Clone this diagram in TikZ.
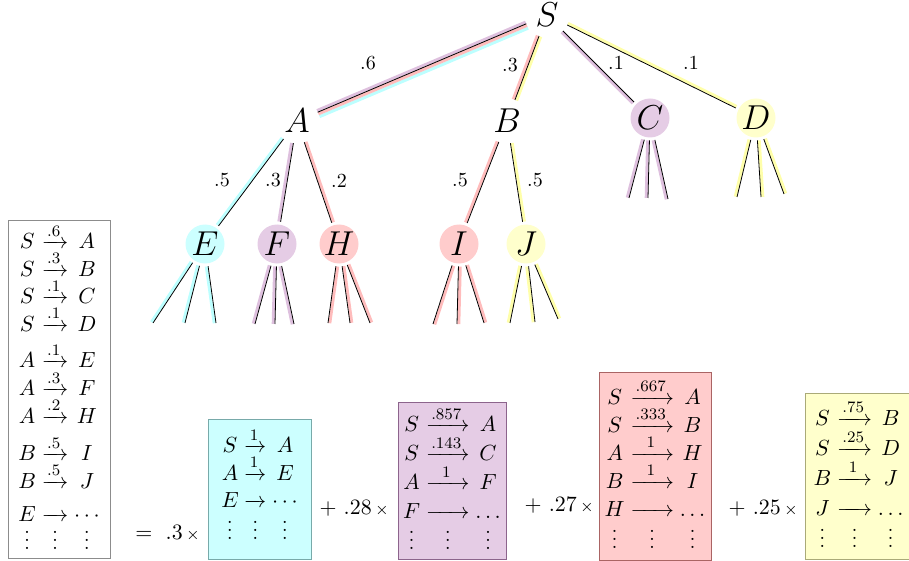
\documentclass[tikz,border=0pt]{standalone}
\usepackage{amsmath,mathtools}
\usetikzlibrary{calc,matrix}

\definecolor{cyanfill}{RGB}{204,255,255}
\definecolor{violetfill}{RGB}{229,204,229}
\definecolor{redfill}{RGB}{255,204,204}
\definecolor{yellowfill}{RGB}{255,255,204}
\definecolor{cyanhl}{RGB}{188,255,255}
\definecolor{violethl}{RGB}{222,192,222}
\definecolor{redhl}{RGB}{255,188,188}
\definecolor{yellowhl}{RGB}{255,255,170}

% arrow as long as the label #1, printed with label #2
\newlength\arrwd
\newcommand\wa[2]{\settowidth\arrwd{$\scriptstyle#1$}\xrightarrow{\makebox[\arrwd]{$\scriptstyle#2$}}}

% tree edge: thin black line with coloured lines beside it
\newcommand\hledge[3]{%
  \path (#1) -- (#2) coordinate[pos=0] (h0) coordinate[pos=1] (h1);
  \foreach \hc/\ho in {#3}
    \draw[draw=\hc, line width=1.5pt] ($(h0)!\ho!90:(h1)$) -- ($(h1)!\ho!-90:(h0)$);
  \draw (h0) -- (h1);}

\begin{document}
\begin{tikzpicture}[x=0.5pt, y=-0.5pt,
	tn/.style={circle, minimum size=19.5pt, inner sep=0pt, outer sep=1.5pt, font=\LARGE},
	lbl/.style={inner sep=0pt},
	rulebox/.style={rectangle, inner sep=0pt},
	rules/.style={matrix of math nodes, column sep=2.9pt, row sep=0.8pt,
		nodes={anchor=base, inner sep=0pt, text height=11.5pt, text depth=1.5pt,
			font=\fontsize{11pt}{13pt}\selectfont}},
	coef/.style={anchor=east, inner sep=0pt, font=\fontsize{11pt}{13pt}\selectfont}]
	\useasboundingbox (0,0) rectangle (909,561);

	% Baum
	\node[tn] (S) at (547,15) {$S$};
	\node[tn] (A) at (297,121) {$A$};
	\node[tn] (B) at (507,121) {$B$};
	\node[tn, fill=violetfill] (C) at (650,118) {$C$};
	\node[tn, fill=yellowfill] (D) at (756,118) {$D$};
	\node[tn, fill=cyanfill] (E) at (205,244) {$E$};
	\node[tn, fill=violetfill] (F) at (277,244) {$F$};
	\node[tn, fill=redfill] (H) at (339,244) {$H$};
	\node[tn, fill=redfill] (I) at (459,244) {$I$};
	\node[tn, fill=yellowfill] (J) at (526,244) {$J$};

	\hledge{S}{A}{cyanhl/2.4pt, redhl/0.9pt, violethl/-0.9pt}
	\hledge{S}{B}{redhl/-0.9pt, yellowhl/0.9pt}
	\hledge{S}{C}{violethl/-0.9pt}
	\hledge{S}{D}{yellowhl/0.9pt}
	\hledge{A}{E}{cyanhl/-0.9pt}
	\hledge{A}{F}{violethl/-0.9pt}
	\hledge{A}{H}{redhl/0.9pt}
	\hledge{B}{I}{redhl/-0.9pt}
	\hledge{B}{J}{yellowhl/0.9pt}

	% Wahrscheinlichkeiten
	\node[lbl] (pA) at (368,63) {$.6$};
	\node[lbl] (pB) at (510,65) {$.3$};
	\node[lbl] (pC) at (616,63) {$.1$};
	\node[lbl] (pD) at (691,63) {$.1$};
	\node[lbl] (pE) at (222,180) {$.5$};
	\node[lbl] (pF) at (273,180) {$.3$};
	\node[lbl] (pH) at (339,181) {$.2$};
	\node[lbl] (pI) at (460,180) {$.5$};
	\node[lbl] (pJ) at (535,180) {$.5$};

	% offene Enden
	\coordinate (E1) at (153,323); \coordinate (E2) at (185,323); \coordinate (E3) at (216,323);
	\coordinate (F1) at (255,324); \coordinate (F2) at (275,324); \coordinate (F3) at (294,324);
	\coordinate (H1) at (328,323); \coordinate (H2) at (350,323); \coordinate (H3) at (370,323);
	\coordinate (I1) at (433,324); \coordinate (I2) at (457,324); \coordinate (I3) at (484,323);
	\coordinate (J1) at (510,323); \coordinate (J2) at (535,322); \coordinate (J3) at (558,319);
	\coordinate (C1) at (629,198); \coordinate (C2) at (648,198); \coordinate (C3) at (668,199);
	\coordinate (D1) at (737,197); \coordinate (D2) at (761,197); \coordinate (D3) at (784,194);
	\foreach \k in {1,2,3} {
		\hledge{E}{E\k}{cyanhl/-0.9pt}
		\hledge{F}{F\k}{violethl/-0.9pt}
		\hledge{H}{H\k}{redhl/0.9pt}
		\hledge{I}{I\k}{redhl/0.9pt}
		\hledge{C}{C\k}{violethl/-0.9pt}
	}
	\hledge{J}{J1}{yellowhl/-0.9pt}
	\hledge{J}{J2}{yellowhl/-0.9pt}
	\hledge{J}{J3}{yellowhl/0.9pt}
	\hledge{D}{D1}{yellowhl/-0.9pt}
	\hledge{D}{D2}{yellowhl/0.9pt}
	\hledge{D}{D3}{yellowhl/0.9pt}

	% Grammatik
	\node[rulebox, draw=black!45, minimum width=51pt, minimum height=169pt] (gram) at (59,389) {};
	\matrix[rules] (gramrules) at (gram.center) {
		S & \xrightarrow{.6} & A \\
		S & \xrightarrow{.3} & B \\
		S & \xrightarrow{.1} & C \\
		S & \xrightarrow{.1} & D \\[4.5pt]
		A & \xrightarrow{.1} & E \\
		A & \xrightarrow{.3} & F \\
		A & \xrightarrow{.2} & H \\[5pt]
		B & \xrightarrow{.5} & I \\
		B & \xrightarrow{.5} & J \\[3pt]
		E & \wa{.6}{} & \cdots \\
		\vdots & \vdots & \vdots \\
	};

	% Zerlegung
	\node[coef] (k1) at (200,533) {$=\ .3\,{\scriptstyle\times}$};
	\node[rulebox, fill=cyanfill, draw={rgb,255:red,120;green,170;blue,170}, minimum width=51.5pt, minimum height=70pt] (box1) at (259.5,489) {};
	\matrix[rules] (rules1) at ([yshift=1.5pt]box1.center) {
		S & \xrightarrow{1} & A \\
		A & \xrightarrow{1} & E \\
		E & \wa{1}{} & \cdots \\[2pt]
		\vdots & \vdots & \vdots \\
	};

	\node[coef] (k2) at (389,508) {$+\ .28\,{\scriptstyle\times}$};
	\node[rulebox, fill=violetfill, draw={rgb,255:red,140;green,100;blue,140}, minimum width=54pt, minimum height=78.5pt] (box2) at (452,480.5) {};
	\matrix[rules, row sep=1.5pt] (rules2) at (box2.center) {
		S & \wa{.857}{.857} & A \\
		S & \wa{.857}{.143} & C \\
		A & \wa{.857}{1} & F \\
		F & \wa{.857}{} & \ldots \\[1pt]
		\vdots & \vdots & \vdots \\
	};

	\node[coef] (k3) at (594,505) {$+\ .27\,{\scriptstyle\times}$};
	\node[rulebox, fill=redfill, draw={rgb,255:red,170;green,100;blue,100}, minimum width=56pt, minimum height=94pt] (box3) at (655,466) {};
	\matrix[rules, row sep=1pt] (rules3) at (box3.center) {
		S & \wa{.667}{.667} & A \\
		S & \wa{.667}{.333} & B \\
		A & \wa{.667}{1} & H \\
		B & \wa{.667}{1} & I \\
		H & \wa{.667}{} & \ldots \\[2pt]
		\vdots & \vdots & \vdots \\
	};

	\node[coef] (k4) at (798,508) {$+\ .25\,{\scriptstyle\times}$};
	\node[rulebox, fill=yellowfill, draw={rgb,255:red,170;green,170;blue,120}, minimum width=53.5pt, minimum height=83pt] (box4) at (858.5,476) {};
	\matrix[rules, row sep=2pt] (rules4) at (box4.center) {
		S & \wa{.75}{.75} & B \\
		S & \wa{.75}{.25} & D \\
		B & \wa{.75}{1} & J \\
		J & \wa{.75}{} & \ldots \\[1pt]
		\vdots & \vdots & \vdots \\
	};
\end{tikzpicture}
\end{document}
